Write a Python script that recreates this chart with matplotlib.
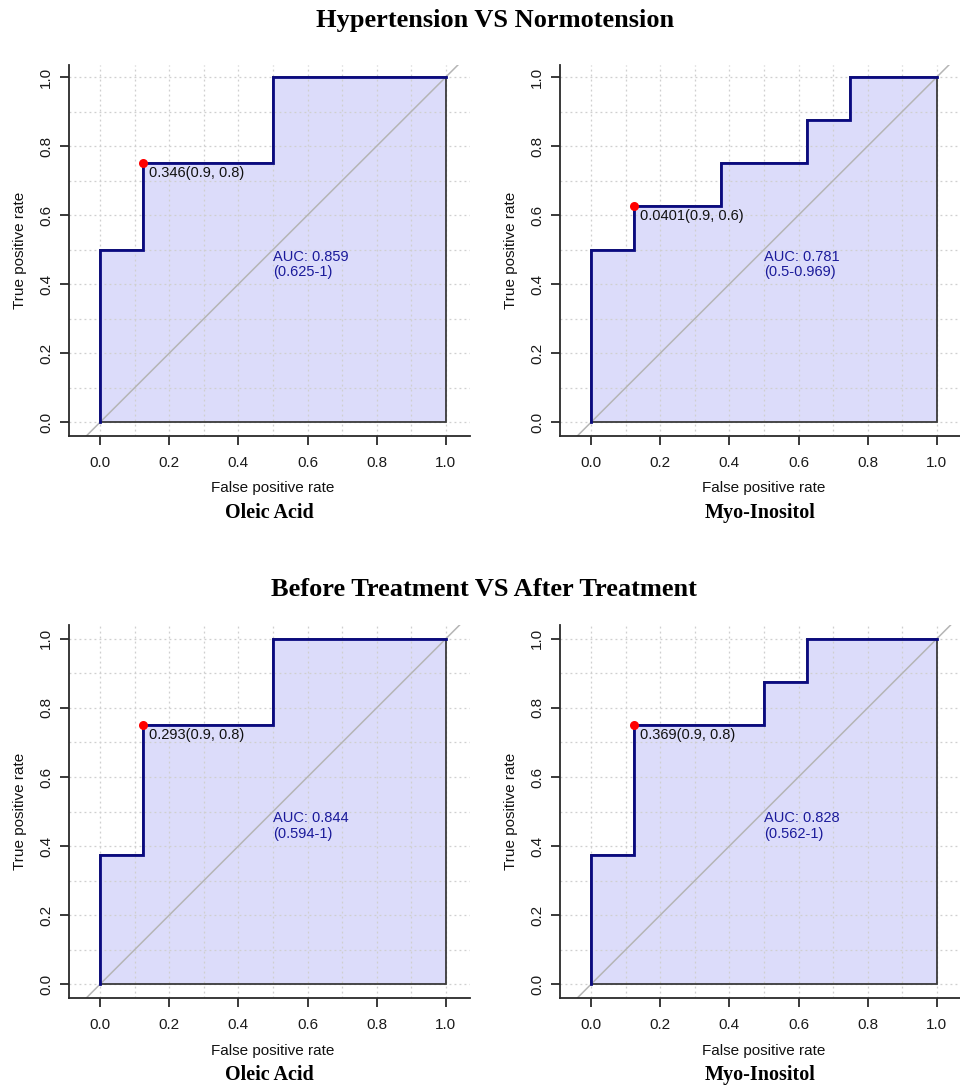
import numpy as np
import matplotlib
matplotlib.use("Agg")
import matplotlib.pyplot as plt
import matplotlib.transforms as mtransforms

# ---------------- data ----------------
group_titles = ["Hypertension VS Normotension", "Before Treatment VS After Treatment"]
panel_names = ["Oleic Acid", "Myo-Inositol", "Oleic Acid", "Myo-Inositol"]

fpr_ht_oleic = [0, 0, 0.125, 0.125, 0.5, 0.5, 1]
tpr_ht_oleic = [0, 0.5, 0.5, 0.75, 0.75, 1, 1]

fpr_ht_myo = [0, 0, 0.125, 0.125, 0.375, 0.375, 0.625, 0.625, 0.75, 0.75, 1]
tpr_ht_myo = [0, 0.5, 0.5, 0.625, 0.625, 0.75, 0.75, 0.875, 0.875, 1, 1]

fpr_tr_oleic = [0, 0, 0.125, 0.125, 0.5, 0.5, 1]
tpr_tr_oleic = [0, 0.375, 0.375, 0.75, 0.75, 1, 1]

fpr_tr_myo = [0, 0, 0.125, 0.125, 0.5, 0.5, 0.625, 0.625, 1]
tpr_tr_myo = [0, 0.375, 0.375, 0.75, 0.75, 0.875, 0.875, 1, 1]

best_points = [(0.125, 0.75), (0.125, 0.625), (0.125, 0.75), (0.125, 0.75)]
best_labels = ["0.346(0.9, 0.8)", "0.0401(0.9, 0.6)", "0.293(0.9, 0.8)", "0.369(0.9, 0.8)"]
auc_labels = ["AUC: 0.859\n(0.625-1)", "AUC: 0.781\n(0.5-0.969)",
              "AUC: 0.844\n(0.594-1)", "AUC: 0.828\n(0.562-1)"]

curves = [(fpr_ht_oleic, tpr_ht_oleic), (fpr_ht_myo, tpr_ht_myo),
          (fpr_tr_oleic, tpr_tr_oleic), (fpr_tr_myo, tpr_tr_myo)]

# ---------------- style ----------------
SANS = ["Liberation Sans", "DejaVu Sans"]
SERIF = ["Liberation Serif", "DejaVu Serif"]
W, H = 960, 1086
fig = plt.figure(figsize=(W / 100, H / 100), dpi=100)

FILL = "#dcdcfa"
CURVE = "#0a0a80"
AXCOL = "#2a2a2a"

# axes boxes in pixel coords: (left, top, right, bottom)
boxes = [(69, 65, 470, 436), (560, 65, 961, 436),
         (69, 625, 470, 998), (560, 625, 961, 998)]
ylims = [(-0.04, 1.035), (-0.04, 1.035), (-0.04, 1.04), (-0.04, 1.04)]

for i, (box, (fpr, tpr)) in enumerate(zip(boxes, curves)):
    l, t, r, b = box
    ax = fig.add_axes([l / W, 1 - b / H, (r - l) / W, (b - t) / H])
    ax.set_xlim(-0.09, 1.07)
    ax.set_ylim(*ylims[i])
    for s in ["top", "right"]:
        ax.spines[s].set_visible(False)
    for s in ["left", "bottom"]:
        ax.spines[s].set_color(AXCOL)
        ax.spines[s].set_linewidth(1.3)

    ticks = np.arange(0, 1.01, 0.2)
    ax.set_xticks(ticks)
    ax.set_yticks(ticks)
    ax.set_xticks(np.arange(0, 1.01, 0.1), minor=True)
    ax.set_yticks(np.arange(0, 1.01, 0.1), minor=True)
    ax.set_xticklabels([f"{v:.1f}" for v in ticks], family=SANS, fontsize=11, color="#1a1a1a")
    ax.set_yticklabels([f"{v:.1f}" for v in ticks], family=SANS, fontsize=11,
                       color="#1a1a1a", rotation=90, va="center")
    ax.tick_params(which="major", direction="out", length=6.5, width=1.3, color=AXCOL)
    ax.tick_params(axis="x", which="major", pad=8)
    ax.tick_params(axis="y", which="major", pad=5)
    ax.tick_params(which="minor", length=0)

    ax.set_axisbelow("line")
    ax.grid(which="both", color="#cfcfcf", linestyle=(0, (1.5, 2.5)), linewidth=0.9)

    # AUC polygon
    px = list(fpr) + [1]
    py = list(tpr) + [0]
    ax.fill(px, py, facecolor=FILL, edgecolor="none", zorder=1)
    ax.fill(px, py, facecolor="none", edgecolor="#3a3a3a", linewidth=1.3, zorder=2.2)
    # diagonal
    ax.plot([-0.2, 1.2], [-0.2, 1.2], color="#b5b5b5", linewidth=1.1, zorder=2)
    # ROC curve
    ax.plot(fpr, tpr, color=CURVE, linewidth=2.0, zorder=3, solid_joinstyle="miter")
    # best threshold
    bx, by = best_points[i]
    ax.plot([bx], [by], "o", color="#ff0000", markersize=6.5, zorder=4, markeredgewidth=0)
    ax.annotate(best_labels[i], (bx, by), xytext=(4, -2), textcoords="offset points",
                ha="left", va="top", family=SANS, fontsize=10.5, color="#111", zorder=5)
    # AUC text
    ax.text(0.5, 0.5, auc_labels[i], ha="left", va="top", family=SANS, fontsize=10.5,
            color="#1a1a9a", linespacing=1.15, zorder=5)

    trans = mtransforms.blended_transform_factory(ax.transData, ax.transAxes)
    ax.text(0.5, -0.141, "False positive rate", transform=trans, ha="center", va="center",
            family=SANS, fontsize=11, color="#111")
    ax.text(0.49, -0.207, panel_names[i], transform=trans, ha="center", va="center",
            family=SERIF, fontsize=14.5, fontweight="bold", color="#000")
    ax.text(-0.122, 0.5, "True positive rate", transform=ax.transAxes, rotation=90,
            ha="center", va="center", family=SANS, fontsize=11, color="#111")

fig.text(495 / W, 1 - 21 / H, group_titles[0], ha="center", va="center",
         family=SERIF, fontsize=19, fontweight="bold")
fig.text(484 / W, 1 - 589 / H, group_titles[1], ha="center", va="center",
         family=SERIF, fontsize=19, fontweight="bold")

fig.savefig("out.png", dpi=100, facecolor="white")
